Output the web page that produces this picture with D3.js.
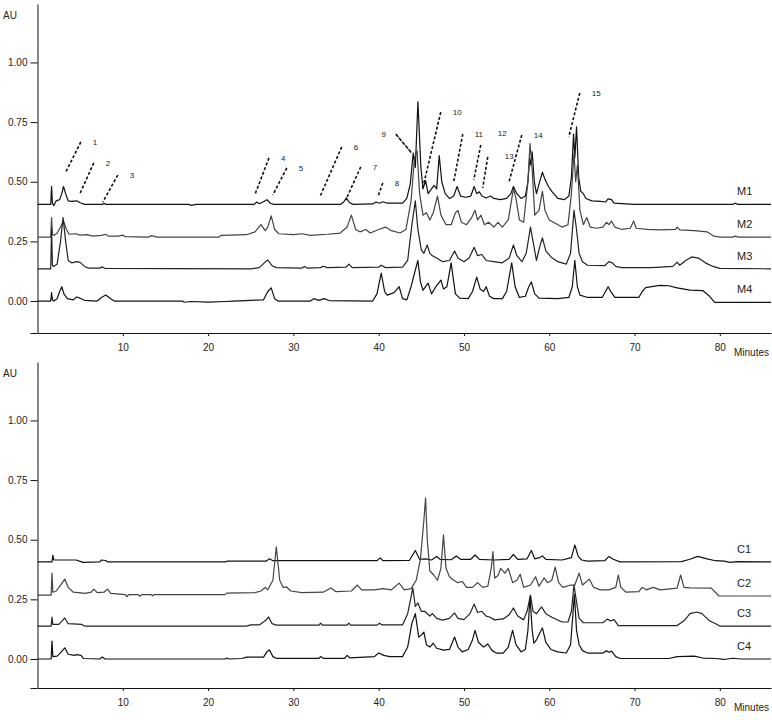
<!DOCTYPE html>
<html>
<head>
<meta charset="utf-8">
<script src="https://cdn.jsdelivr.net/npm/d3@7"></script>
<style>
  body { margin: 0; background: #fff; }
  text { font-family: Arial, "Liberation Sans", sans-serif; fill: #222; }
</style>
</head>
<body>
<svg id="chart" width="772" height="720"></svg>
<script>
// chromatograms, [minutes, AU]
var m1 = [[0,0.405],[1.55,0.405],[1.65,0.48],[1.75,0.41],[1.9,0.40],[2.2,0.42],[2.6,0.425],[2.85,0.45],[3.05,0.48],[3.3,0.45],[3.6,0.42],[4.0,0.418],[4.6,0.42],[5.0,0.412],[5.5,0.405],[7.6,0.405],[7.8,0.41],[8.0,0.405],[17.8,0.405],[18.0,0.401],[18.6,0.405],[25.4,0.405],[25.7,0.415],[26.0,0.408],[26.6,0.418],[26.9,0.425],[27.3,0.41],[27.7,0.405],[35.5,0.405],[35.9,0.415],[36.2,0.432],[36.6,0.412],[37.0,0.405],[39.3,0.407],[39.7,0.415],[40.1,0.41],[40.5,0.416],[41.0,0.41],[42.8,0.41],[43.3,0.43],[43.7,0.49],[44.05,0.62],[44.3,0.56],[44.6,0.835],[44.95,0.56],[45.2,0.47],[45.5,0.505],[45.8,0.45],[46.2,0.47],[46.5,0.485],[46.8,0.47],[47.1,0.61],[47.4,0.5],[47.8,0.45],[48.3,0.43],[48.8,0.44],[49.2,0.48],[49.6,0.44],[50.2,0.435],[50.8,0.44],[51.2,0.48],[51.5,0.45],[51.8,0.458],[52.1,0.44],[52.6,0.432],[53.1,0.44],[53.5,0.43],[54.3,0.425],[55.0,0.43],[55.5,0.45],[55.8,0.48],[56.2,0.45],[56.7,0.43],[57.2,0.44],[57.5,0.5],[57.7,0.60],[57.85,0.57],[58.0,0.625],[58.25,0.5],[58.5,0.45],[58.8,0.49],[59.2,0.54],[59.5,0.51],[59.9,0.48],[60.3,0.46],[61.0,0.43],[61.8,0.425],[62.3,0.44],[62.6,0.52],[62.85,0.70],[63.0,0.6],[63.2,0.73],[63.45,0.52],[63.7,0.46],[64.0,0.45],[64.3,0.43],[65.0,0.42],[66.0,0.418],[66.6,0.415],[66.9,0.428],[67.3,0.425],[67.6,0.41],[70.0,0.405],[81.5,0.405],[81.8,0.41],[82.1,0.405],[86,0.405]];
var m2 = [[0,0.268],[1.55,0.268],[1.65,0.35],[1.75,0.28],[1.9,0.275],[2.3,0.285],[2.7,0.31],[3.05,0.335],[3.4,0.30],[3.7,0.28],[4.5,0.282],[5.0,0.276],[5.8,0.278],[6.5,0.272],[7.5,0.275],[8.0,0.28],[8.3,0.272],[9.5,0.272],[10.0,0.276],[10.3,0.27],[13.0,0.268],[13.4,0.274],[14.0,0.268],[21.3,0.268],[21.5,0.275],[24.5,0.278],[25.5,0.29],[26.2,0.32],[26.7,0.295],[27.0,0.31],[27.4,0.357],[27.8,0.30],[28.3,0.282],[30.0,0.278],[31.0,0.282],[32.0,0.275],[34.0,0.28],[35.5,0.285],[36.3,0.31],[36.8,0.36],[37.3,0.30],[37.8,0.29],[38.5,0.3],[39.0,0.285],[40.0,0.3],[40.8,0.31],[41.5,0.295],[42.5,0.285],[43.2,0.3],[43.8,0.42],[44.2,0.6],[44.5,0.63],[44.8,0.45],[45.2,0.36],[45.6,0.37],[46.0,0.34],[46.4,0.37],[46.9,0.44],[47.3,0.36],[47.9,0.32],[48.5,0.32],[49.0,0.37],[49.3,0.38],[49.7,0.33],[50.3,0.32],[50.9,0.35],[51.3,0.38],[51.6,0.34],[52.0,0.36],[52.4,0.32],[52.9,0.33],[53.5,0.31],[54.0,0.33],[54.5,0.31],[55.2,0.34],[55.8,0.47],[56.1,0.43],[56.5,0.34],[57.0,0.33],[57.5,0.5],[57.75,0.66],[58.0,0.55],[58.3,0.36],[58.8,0.38],[59.2,0.46],[59.5,0.38],[60.0,0.34],[60.5,0.33],[61.5,0.31],[62.2,0.32],[62.6,0.45],[62.9,0.62],[63.1,0.5],[63.3,0.57],[63.6,0.38],[64.0,0.32],[64.4,0.35],[64.8,0.31],[65.5,0.305],[66.3,0.31],[66.7,0.33],[67.0,0.32],[67.3,0.335],[67.7,0.31],[68.5,0.3],[69.5,0.305],[69.9,0.335],[70.2,0.305],[71.5,0.3],[73.0,0.298],[74.8,0.3],[75.0,0.31],[75.3,0.298],[77.0,0.295],[78.5,0.29],[79.3,0.272],[80.0,0.268],[81.5,0.268],[81.8,0.272],[82.2,0.268],[86,0.268]];
var m3 = [[0,0.135],[1.55,0.135],[1.65,0.30],[1.75,0.15],[1.9,0.145],[2.3,0.155],[2.7,0.25],[3.0,0.35],[3.3,0.25],[3.6,0.17],[4.0,0.16],[4.6,0.165],[5.0,0.162],[5.5,0.145],[6.0,0.138],[7.3,0.138],[7.6,0.143],[7.9,0.137],[25.0,0.135],[26.0,0.14],[26.6,0.16],[27.0,0.172],[27.5,0.148],[28.0,0.14],[31.0,0.138],[31.3,0.145],[31.6,0.138],[33.2,0.14],[33.5,0.146],[34.0,0.14],[36.2,0.142],[36.5,0.155],[36.9,0.14],[40.0,0.142],[40.3,0.15],[40.8,0.14],[42.8,0.142],[43.4,0.17],[43.9,0.32],[44.3,0.42],[44.6,0.3],[45.0,0.214],[45.3,0.2],[45.7,0.235],[46.0,0.2],[46.3,0.19],[46.8,0.18],[47.5,0.165],[48.3,0.17],[48.9,0.21],[49.3,0.18],[50.0,0.165],[50.6,0.18],[51.2,0.225],[51.6,0.19],[52.1,0.195],[52.6,0.17],[53.5,0.165],[54.5,0.16],[55.3,0.18],[55.8,0.235],[56.2,0.19],[56.8,0.165],[57.3,0.2],[57.8,0.31],[58.1,0.25],[58.5,0.17],[58.9,0.23],[59.2,0.265],[59.6,0.21],[60.2,0.185],[61.0,0.165],[62.0,0.155],[62.5,0.2],[62.9,0.38],[63.2,0.3],[63.5,0.2],[63.9,0.165],[64.5,0.15],[66.5,0.148],[67.0,0.165],[67.4,0.16],[67.8,0.145],[68.5,0.14],[72.0,0.14],[74.5,0.145],[75.0,0.163],[75.3,0.15],[76.0,0.17],[76.7,0.185],[77.5,0.18],[78.3,0.16],[79.2,0.145],[80.0,0.137],[86,0.135]];
var m4 = [[0,0.0],[1.55,0.0],[1.65,0.035],[1.75,0.005],[1.9,0.0],[2.3,0.01],[2.6,0.04],[2.85,0.06],[3.1,0.03],[3.5,0.01],[4.2,0.005],[4.6,0.017],[5.0,0.012],[5.5,0.003],[7.0,0.0],[7.5,0.015],[8.0,0.025],[8.5,0.012],[9.0,0.0],[17.0,0.0],[17.2,-0.005],[18.0,-0.002],[20.0,-0.005],[22.0,-0.002],[23.0,0.0],[26.5,0.005],[27.0,0.04],[27.4,0.055],[27.8,0.01],[28.2,0.0],[32.0,0.0],[32.4,0.01],[33.0,0.003],[33.6,0.01],[34.2,0.002],[39.3,0.0],[39.8,0.03],[40.3,0.117],[40.7,0.04],[41.0,0.025],[41.8,0.035],[42.4,0.06],[42.8,0.01],[43.3,0.005],[43.8,0.06],[44.3,0.13],[44.6,0.17],[44.9,0.08],[45.2,0.045],[45.5,0.06],[45.8,0.075],[46.2,0.03],[46.7,0.06],[47.3,0.088],[47.6,0.05],[48.0,0.06],[48.5,0.16],[48.8,0.08],[49.0,0.03],[49.5,0.012],[50.5,0.01],[51.0,0.04],[51.5,0.1],[51.9,0.05],[52.3,0.04],[52.6,0.06],[53.0,0.02],[53.5,0.01],[54.5,0.01],[55.0,0.04],[55.6,0.16],[56.0,0.06],[56.5,0.015],[57.2,0.02],[57.6,0.06],[57.9,0.08],[58.3,0.03],[58.8,0.012],[61.0,0.01],[62.3,0.015],[62.7,0.06],[63.0,0.17],[63.3,0.06],[63.6,0.025],[64.5,0.015],[66.2,0.015],[66.6,0.04],[66.9,0.06],[67.3,0.035],[67.7,0.015],[70.5,0.015],[70.9,0.04],[71.3,0.056],[72.0,0.06],[73.0,0.066],[74.0,0.064],[75.0,0.055],[76.5,0.046],[78.0,0.044],[78.8,0.02],[79.4,-0.006],[86,-0.006]];

var c1 = [[0,0.407],[1.7,0.407],[1.8,0.435],[1.9,0.415],[2.5,0.415],[4.5,0.415],[5.1,0.408],[5.3,0.405],[7.3,0.407],[7.5,0.415],[8.0,0.413],[8.2,0.407],[22.0,0.407],[22.2,0.41],[26.8,0.41],[27.2,0.42],[27.6,0.412],[39.8,0.412],[40.2,0.424],[40.5,0.412],[43.6,0.413],[44.3,0.455],[44.8,0.418],[45.5,0.42],[46.2,0.415],[46.8,0.43],[47.2,0.418],[48.5,0.416],[49.1,0.432],[49.6,0.418],[50.8,0.418],[51.3,0.436],[51.8,0.418],[53.5,0.415],[55.3,0.418],[55.8,0.438],[56.3,0.418],[57.4,0.42],[57.9,0.455],[58.3,0.42],[58.9,0.425],[59.2,0.432],[59.6,0.418],[61.5,0.415],[62.6,0.425],[63.0,0.478],[63.4,0.43],[63.8,0.415],[64.5,0.41],[66.5,0.412],[67.0,0.43],[67.5,0.418],[68.3,0.407],[75.5,0.408],[76.5,0.418],[77.4,0.43],[78.5,0.42],[79.5,0.412],[80.5,0.41],[81.2,0.405],[82.0,0.408],[86,0.407]];
var c2 = [[0,0.268],[1.6,0.268],[1.7,0.36],[1.8,0.28],[2.2,0.285],[2.7,0.31],[3.2,0.335],[3.6,0.3],[4.2,0.28],[5.6,0.275],[6.3,0.28],[6.6,0.293],[7.0,0.278],[7.8,0.28],[8.2,0.293],[8.6,0.275],[10.3,0.27],[10.5,0.262],[10.7,0.27],[11.8,0.27],[12.0,0.263],[12.2,0.27],[13.3,0.27],[13.5,0.265],[13.7,0.27],[22.0,0.27],[22.2,0.276],[25.5,0.278],[26.2,0.285],[26.7,0.3],[27.0,0.29],[27.6,0.33],[28.0,0.47],[28.4,0.33],[28.8,0.3],[29.2,0.302],[29.7,0.285],[31.0,0.278],[33.5,0.28],[34.4,0.298],[35.0,0.282],[36.8,0.285],[37.5,0.31],[38.0,0.29],[39.5,0.29],[40.5,0.295],[41.5,0.29],[42.4,0.318],[43.0,0.29],[43.8,0.295],[44.4,0.33],[44.9,0.42],[45.3,0.58],[45.5,0.675],[45.7,0.5],[46.0,0.37],[46.5,0.35],[46.9,0.33],[47.3,0.38],[47.6,0.52],[47.9,0.38],[48.3,0.345],[48.8,0.33],[49.3,0.32],[49.8,0.325],[50.3,0.3],[51.0,0.3],[51.6,0.32],[52.2,0.3],[52.8,0.305],[53.2,0.38],[53.4,0.45],[53.6,0.34],[54.0,0.35],[54.3,0.38],[54.8,0.36],[55.2,0.38],[55.7,0.32],[56.2,0.33],[56.6,0.355],[57.0,0.3],[57.8,0.31],[58.4,0.345],[58.8,0.305],[59.4,0.34],[59.8,0.32],[60.3,0.33],[60.7,0.385],[61.1,0.32],[61.6,0.3],[62.5,0.31],[63.0,0.31],[63.5,0.36],[63.9,0.31],[64.7,0.335],[65.2,0.3],[66.0,0.29],[67.0,0.29],[67.8,0.3],[68.1,0.352],[68.4,0.3],[69.0,0.28],[70.5,0.282],[70.9,0.3],[71.4,0.29],[72.2,0.3],[73.0,0.29],[75.0,0.297],[75.4,0.352],[75.8,0.3],[76.5,0.298],[79.0,0.297],[79.9,0.264],[86,0.264]];
var c3 = [[0,0.138],[1.6,0.138],[1.7,0.176],[1.8,0.145],[2.5,0.145],[2.9,0.16],[3.2,0.172],[3.6,0.148],[5.2,0.145],[5.5,0.138],[24.5,0.138],[25.0,0.143],[26.0,0.143],[26.7,0.16],[27.1,0.176],[27.5,0.148],[28.0,0.142],[33.0,0.142],[33.2,0.15],[33.4,0.142],[36.3,0.142],[36.5,0.15],[36.7,0.142],[39.8,0.142],[40.1,0.15],[40.4,0.143],[42.8,0.143],[43.4,0.19],[43.8,0.26],[44.0,0.298],[44.3,0.22],[44.6,0.235],[45.0,0.2],[45.4,0.2],[46.0,0.18],[46.3,0.19],[46.8,0.17],[47.5,0.163],[48.3,0.17],[48.9,0.193],[49.3,0.17],[50.0,0.165],[50.7,0.19],[51.2,0.23],[51.6,0.195],[52.1,0.2],[52.6,0.18],[53.0,0.176],[53.6,0.164],[54.6,0.168],[55.3,0.185],[55.8,0.214],[56.3,0.18],[57.0,0.164],[57.4,0.2],[57.8,0.268],[58.1,0.2],[58.5,0.19],[59.1,0.218],[59.6,0.19],[60.3,0.175],[61.5,0.155],[62.2,0.155],[62.6,0.2],[62.9,0.31],[63.2,0.24],[63.5,0.17],[64.0,0.152],[66.3,0.152],[66.8,0.167],[67.2,0.16],[67.6,0.165],[68.1,0.14],[75.0,0.14],[75.8,0.16],[76.5,0.19],[77.3,0.197],[77.9,0.19],[78.8,0.16],[79.5,0.148],[80.0,0.138],[86,0.138]];
var c4 = [[0,0.0],[1.6,0.0],[1.7,0.075],[1.8,0.01],[2.3,0.012],[2.8,0.03],[3.2,0.047],[3.6,0.02],[4.3,0.015],[4.6,0.018],[5.1,0.015],[5.4,0.002],[7.3,0.0],[7.6,0.008],[7.9,0.0],[22.0,0.0],[22.2,0.004],[22.4,0.0],[24.0,0.002],[24.5,0.008],[26.5,0.008],[26.9,0.03],[27.2,0.038],[27.6,0.01],[28.0,0.003],[33.0,0.003],[33.2,0.01],[33.5,0.003],[36.0,0.003],[36.3,0.015],[36.6,0.005],[39.5,0.01],[40.0,0.025],[40.6,0.015],[41.3,0.01],[42.8,0.01],[43.4,0.05],[43.9,0.15],[44.3,0.19],[44.7,0.092],[45.0,0.1],[45.3,0.113],[45.6,0.06],[46.0,0.05],[46.4,0.066],[46.8,0.045],[47.6,0.037],[48.3,0.04],[48.9,0.092],[49.3,0.05],[49.8,0.03],[50.5,0.04],[51.0,0.08],[51.3,0.12],[51.7,0.07],[52.3,0.05],[52.8,0.063],[53.3,0.035],[53.8,0.025],[54.6,0.025],[55.2,0.05],[55.7,0.12],[56.1,0.06],[56.7,0.03],[57.2,0.04],[57.5,0.12],[57.75,0.26],[58.0,0.12],[58.2,0.066],[58.5,0.08],[58.9,0.11],[59.2,0.13],[59.6,0.07],[60.2,0.04],[61.0,0.03],[62.0,0.025],[62.5,0.06],[62.8,0.2],[62.95,0.27],[63.2,0.12],[63.5,0.06],[63.9,0.035],[64.5,0.025],[66.3,0.025],[66.7,0.034],[67.0,0.028],[67.3,0.033],[67.8,0.01],[68.3,0.002],[74.0,0.002],[75.0,0.01],[77.0,0.012],[78.0,0.004],[79.5,0.002],[80.5,-0.002],[81.5,0.003],[82.5,0.0],[86,0.0]];

var topNames = ["M1", "M2", "M3", "M4"];
var bottomNames = ["C1", "C2", "C3", "C4"];
var xTicks = [10, 20, 30, 40, 50, 60, 70, 80];
var yTicks = [0, 0.25, 0.5, 0.75, 1.0];

// peak number, leader line from (t1,a1) down to (t2,a2)
var peakLabels = ["1","2","3","4","5","6","7","8","9","10","11","12","13","14","15"];
var leaderTop = [[5.08,0.667],[6.6,0.579],[9.41,0.528],[27.14,0.6],[29.23,0.558],[35.67,0.646],[37.9,0.562],[40.48,0.495],[42.0,0.7],[47.28,0.792],[49.86,0.7],[51.97,0.654],[52.79,0.604],[56.78,0.696],[63.58,0.872]];
var leaderEnd = [[3.32,0.541],[4.96,0.449],[7.66,0.415],[25.47,0.444],[27.58,0.444],[33.1,0.436],[36.14,0.423],[39.9,0.436],[43.88,0.62],[45.17,0.474],[48.8,0.499],[51.15,0.507],[52.2,0.474],[55.25,0.495],[62.29,0.688]];

var svg = d3.select("#chart");
var x = d3.scaleLinear().domain([0, 86]).range([37.5, 771]);

function panel(series, names, yDomain, yRange, colors) {
    var y = d3.scaleLinear().domain(yDomain).range(yRange);
    var g = svg.append("g");

    var yAxis = g.append("g")
        .attr("transform", "translate(" + x.range()[0] + ",0)")
        .call(d3.axisLeft(y).tickValues(yTicks).tickFormat(d3.format(".2f")).tickSize(7).tickPadding(3).tickSizeOuter(0));
    var xAxis = g.append("g")
        .attr("transform", "translate(0," + yRange[0] + ")")
        .call(d3.axisBottom(x).tickValues(xTicks).tickFormat(d3.format("d")).tickSize(3).tickPadding(8).tickSizeOuter(0));
    [yAxis, xAxis].forEach(function (a) {
        a.selectAll("path, line").attr("stroke", "#111");
        a.selectAll("text").attr("fill", "#333").style("font-size", "10px")
            .style("font-family", "Arial, 'Liberation Sans', sans-serif");
    });
    // little overshoot of the axes past the corner
    g.append("line").attr("x1", x.range()[0] - 7).attr("x2", x.range()[0])
        .attr("y1", yRange[0] + 0.5).attr("y2", yRange[0] + 0.5).attr("stroke", "#111");

    g.append("text").attr("x", 3).attr("y", yRange[1] + 15)
        .style("font-size", "10px").attr("fill", "#333").text("AU");
    g.append("text").attr("x", 769).attr("y", yRange[0] + 23)
        .attr("text-anchor", "end").style("font-size", "10px").attr("fill", "#333").text("Minutes");

    var line = d3.line().x(function (d) { return x(d[0]); }).y(function (d) { return y(d[1]); });
    series.forEach(function (s, i) {
        g.append("path").datum(s)
            .attr("d", line)
            .attr("fill", "none")
            .attr("stroke", colors[i])
            .attr("stroke-width", 1.2)
            .attr("stroke-linejoin", "round");
        g.append("text")
            .attr("x", 737)
            .attr("y", y(s[s.length - 1][1]) - 9)
            .style("font-size", "11px")
            .attr("fill", "#222")
            .text(names[i]);
    });
    return y;
}

var yTop = panel([m1, m2, m3, m4], topNames, [-0.134, 1.245], [333, 4], ["#111", "#444", "#222", "#111"]);
var yBot = panel([c1, c2, c3, c4], bottomNames, [-0.1216, 1.245], [688, 362], ["#111", "#444", "#222", "#111"]);

// numbered peaks on M1
var ann = svg.append("g");
peakLabels.forEach(function (lab, i) {
    var p = leaderTop[i], q = leaderEnd[i];
    ann.append("line")
        .attr("x1", x(p[0])).attr("y1", yTop(p[1]))
        .attr("x2", x(q[0])).attr("y2", yTop(q[1]))
        .attr("stroke", "#111").attr("stroke-width", 1.6)
        .attr("stroke-dasharray", lab == "9" ? "4,1" : "3,2");
    var dx = 12, dy = 3;
    if (lab == "9") { dx = -12; }
    if (lab == "12" || lab == "13") { dx = 17; dy = lab == "12" ? -9 : 2; }
    ann.append("text")
        .attr("x", x(p[0]) + dx).attr("y", yTop(p[1]) + dy)
        .attr("text-anchor", lab == "9" ? "middle" : "start")
        .style("font-size", "8px").attr("fill", "#000")
        .text(lab);
});
</script>
</body>
</html>
